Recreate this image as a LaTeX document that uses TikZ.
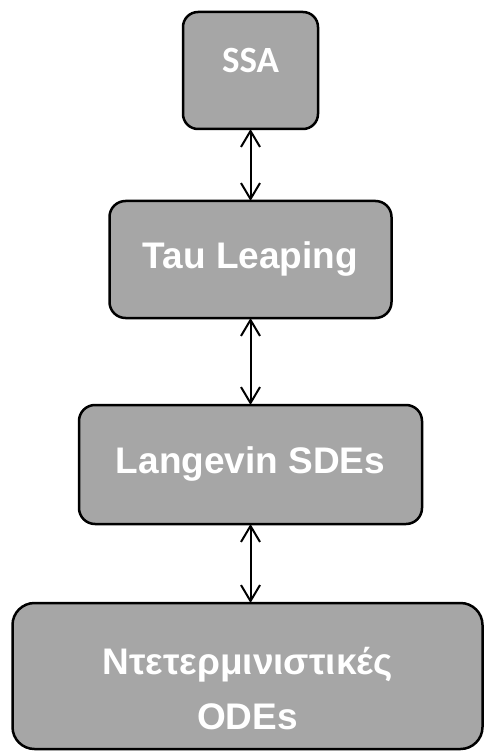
\documentclass[tikz,border=0pt]{standalone}
\usepackage{fontspec}
\setmainfont{Liberation Sans}
\newfontfamily\calibrifont{Carlito}
\usepackage{tikz}
\usetikzlibrary{arrows.meta,positioning}
\definecolor{BoxGray}{HTML}{A6A6A6}

\begin{document}
\begin{tikzpicture}[
x=1pt,y=1pt,
box/.style={draw=black,fill=BoxGray,line width=2.5pt,outer sep=0pt,inner sep=0pt,align=center,text=white,font=\fontsize{37}{55}\selectfont\bfseries},
arr/.style={{Straight Barb[length=16pt,width=19pt]}-{Straight Barb[length=16pt,width=19pt]},line width=2pt}
]
\useasboundingbox (0,0) rectangle (485,-751);
\node[box,minimum width=135pt,minimum height=117pt,rounded corners=15pt] (ssa) at (250.5,-70.5) {\raisebox{20pt}{\calibrifont SSA}};
\node[box,minimum width=282pt,minimum height=117pt,rounded corners=16pt,below=72pt of ssa] (tau) {\raisebox{4pt}{Tau Leaping}};
\node[box,minimum width=343pt,minimum height=119pt,rounded corners=16pt,below=87pt of tau] (langevin) {\raisebox{4pt}{Langevin SDEs}};
\node[box,minimum width=470pt,minimum height=146pt,rounded corners=22pt,below=79pt of langevin,xshift=-3pt] (odes) {\rule{0pt}{52pt}Ντετερμινιστικές\\ODEs};
\draw[arr] (ssa.south) -- (tau.north);
\draw[arr] (tau.south) -- (langevin.north);
\draw[arr] (langevin.south) -- (langevin.south |- odes.north);
\end{tikzpicture}
\end{document}
